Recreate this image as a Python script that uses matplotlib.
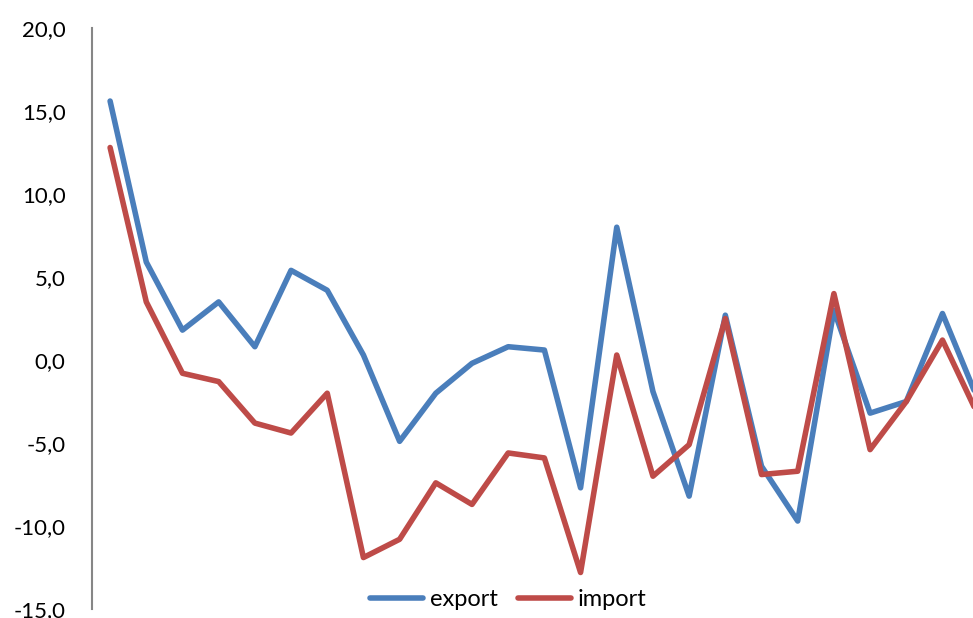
import numpy as np
import matplotlib
matplotlib.use("Agg")
import matplotlib.pyplot as plt

# values (last point sits past the right edge)
export = [15.6, 5.9, 1.8, 3.5, 0.8, 5.4, 4.2, 0.3, -4.9, -2.0, -0.2, 0.8, 0.6,
          -7.7, 8.0, -1.9, -8.2, 2.7, -6.4, -9.7, 3.0, -3.2, -2.5, 2.8, -2.5]
imports = [12.8, 3.5, -0.8, -1.3, -3.8, -4.4, -2.0, -11.9, -10.8, -7.4, -8.7, -5.6, -5.9,
           -12.8, 0.3, -7.0, -5.1, 2.5, -6.9, -6.7, 4.0, -5.4, -2.5, 1.2, -3.4]
yticks = [-15, -10, -5, 0, 5, 10, 15, 20]

plt.rcParams['font.family'] = ['Lato', 'DejaVu Sans']

fig = plt.figure(figsize=(9.73, 6.18), dpi=100)
n = len(export)
step = 36.19 / 973
ax = fig.add_axes([92 / 973, 1 - 609 / 618, n * step, 581 / 618])

x = np.arange(n)
ax.plot(x, export, color='#4A7EBB', lw=4.0, label='export',
        solid_joinstyle='round', solid_capstyle='round')
ax.plot(x, imports, color='#BE4B48', lw=4.0, label='import',
        solid_joinstyle='round', solid_capstyle='round')

ax.set_xlim(-0.5, n - 0.5)
ax.set_ylim(-15, 20)
ax.set_yticks(yticks)
ax.set_yticklabels([f"{v:.1f}".replace('.', ',') for v in yticks], fontsize=16)
ax.tick_params(axis='y', length=0, pad=19)
ax.set_xticks([])
for s in ['top', 'right', 'bottom']:
    ax.spines[s].set_visible(False)
ax.spines['left'].set_color('#868686')
ax.spines['left'].set_linewidth(1.5)

ax.legend(loc='center', bbox_to_anchor=(0.46, 0.016), ncol=2, frameon=False,
          fontsize=17, handlelength=2.25, columnspacing=0.85, handletextpad=0.3)

fig.savefig('out.png', dpi=100)
